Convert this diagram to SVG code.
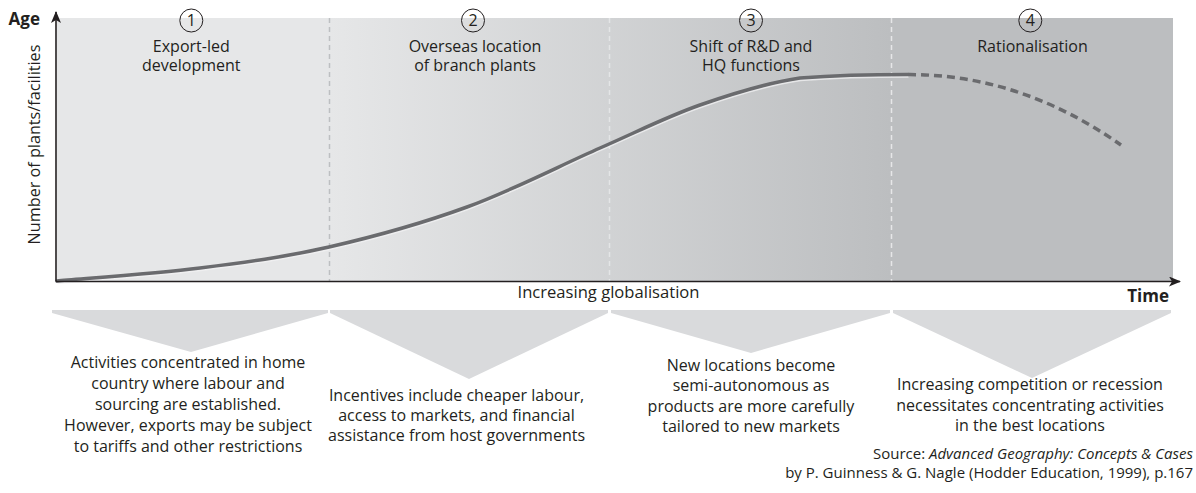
<svg xmlns="http://www.w3.org/2000/svg" width="1196" height="493" viewBox="0 0 1196 493">
  <defs>
    <linearGradient id="bgGrad" gradientUnits="userSpaceOnUse" x1="329" y1="0" x2="891" y2="0">
      <stop offset="0" stop-color="#e6e7e8"/>
      <stop offset="1" stop-color="#bcbec0"/>
    </linearGradient>
    <marker id="arrow" viewBox="0 0 12 10" refX="11" refY="5" markerWidth="12" markerHeight="10" markerUnits="userSpaceOnUse" orient="auto">
      <path d="M0,0 L12,5 L0,10 L3,5 Z" fill="#231f20"/>
    </marker>
    <style>
      .t { font-family: "Open Sans", "Noto Sans", "Liberation Sans", sans-serif; fill: #231f20; }
      .title { font-size: 16px; text-anchor: middle; }
      .desc { font-size: 16px; text-anchor: middle; }
      .num { font-size: 16px; text-anchor: middle; }
      .bold { font-size: 17px; font-weight: bold; }
      .src { font-size: 15px; text-anchor: end; }
      .ring { fill: none; stroke: #231f20; stroke-width: 1; }
      .chev { fill: #d9dadc; }
      .div { stroke-width: 1.5; stroke-dasharray: 5 4; fill: none; }
      .axis { stroke: #231f20; stroke-width: 1.6; fill: none; }
    </style>
  </defs>

  <g id="plot-background">
    <rect x="57" y="18" width="272" height="263" fill="#e6e7e8"/>
    <rect x="329" y="18" width="562" height="263" fill="url(#bgGrad)"/>
    <rect x="891" y="18" width="282" height="263" fill="#bcbec0"/>
  </g>

  <g id="dividers">
    <line class="div" x1="329.5" y1="18" x2="329.5" y2="281" stroke="#bdbfc1"/>
    <line class="div" x1="609.5" y1="18" x2="609.5" y2="281" stroke="#e4e5e6"/>
    <line class="div" x1="891.5" y1="18" x2="891.5" y2="281" stroke="#e6e7e8"/>
  </g>

  <g id="connectors">
    <path id="curve-highlight" d="M57,281 C80.8,278.8 154.7,273.7 200,268 C245.3,262.3 284.5,257.2 329,247 C373.5,236.8 421.8,223.5 467,207 C512.2,190.5 561.2,165 600,148 C638.8,131 666.7,116.7 700,105 C733.3,93.3 765.3,83.1 800,78 C834.7,75.5 890,74.6 908,74.6" fill="none" stroke="#f2f2f3" stroke-width="2" opacity="0.75" transform="translate(0.5,2.2)"/>
    <path id="curve" d="M57,281 C80.8,278.8 154.7,273.7 200,268 C245.3,262.3 284.5,257.2 329,247 C373.5,236.8 421.8,223.5 467,207 C512.2,190.5 561.2,165 600,148 C638.8,131 666.7,116.7 700,105 C733.3,93.3 765.3,83.1 800,78 C834.7,75.5 890,74.6 908,74.6" fill="none" stroke="#6a6b6e" stroke-width="3.5" stroke-linecap="round"/>
    <path id="curve-projection" d="M908,74.6 Q1020,74 1121,145" fill="none" stroke="#6a6b6e" stroke-width="3.5" stroke-dasharray="8 5"/>
    <line class="axis" x1="56" y1="281.5" x2="56" y2="12" marker-end="url(#arrow)"/>
    <line class="axis" x1="56" y1="281.5" x2="1180" y2="281.5" marker-end="url(#arrow)"/>
  </g>

  <g id="axis-labels">
    <text class="t bold" x="40" y="25" text-anchor="end">Age</text>
    <text class="t bold" x="1169" y="302" text-anchor="end">Time</text>
    <text class="t" font-size="16.2" text-anchor="middle" transform="translate(39.5,144.5) rotate(-90)">Number of plants/facilities</text>
    <text class="t" font-size="16.6" x="608.5" y="298" text-anchor="middle">Increasing globalisation</text>
  </g>

  <g id="stage-1">
    <circle class="ring" cx="191.3" cy="20.5" r="11.5"/>
    <text class="t num" x="191.3" y="26.2">1</text>
    <text class="t title" x="191.3" y="51.5">Export-led</text>
    <text class="t title" x="191.3" y="70.8">development</text>
    <polygon class="chev" points="52,310 328,310 328,313 191,352 52,313"/>
    <text class="t desc" x="188" y="368.3">Activities concentrated in home</text>
    <text class="t desc" x="188" y="389.1">country where labour and</text>
    <text class="t desc" x="188" y="409.9">sourcing are established.</text>
    <text class="t desc" x="188" y="430.7">However, exports may be subject</text>
    <text class="t desc" x="188" y="451.5">to tariffs and other restrictions</text>
  </g>

  <g id="stage-2">
    <circle class="ring" cx="473" cy="20.5" r="11.5"/>
    <text class="t num" x="473" y="26.2">2</text>
    <text class="t title" x="475" y="51.5">Overseas location</text>
    <text class="t title" x="475" y="70.8">of branch plants</text>
    <polygon class="chev" points="330,310 608,310 608,313 469,379 330,313"/>
    <text class="t desc" x="456.5" y="400.7">Incentives include cheaper labour,</text>
    <text class="t desc" x="456.5" y="421">access to markets, and financial</text>
    <text class="t desc" x="456.5" y="441.3">assistance from host governments</text>
  </g>

  <g id="stage-3">
    <circle class="ring" cx="751" cy="20.5" r="11.5"/>
    <text class="t num" x="751" y="26.2">3</text>
    <text class="t title" x="751" y="51.5">Shift of R&amp;D and</text>
    <text class="t title" x="751" y="70.8">HQ functions</text>
    <polygon class="chev" points="611,310 890,310 890,313 751,353 611,313"/>
    <text class="t desc" x="751" y="370.7">New locations become</text>
    <text class="t desc" x="751" y="391.2">semi-autonomous as</text>
    <text class="t desc" x="751" y="411.7">products are more carefully</text>
    <text class="t desc" x="751" y="432.2">tailored to new markets</text>
  </g>

  <g id="stage-4">
    <circle class="ring" cx="1030.3" cy="20.5" r="11.5"/>
    <text class="t num" x="1030.3" y="26.2">4</text>
    <text class="t title" x="1032.5" y="51.5">Rationalisation</text>
    <polygon class="chev" points="893,310 1171,310 1171,313 1032,378 893,313"/>
    <text class="t desc" x="1030" y="390">Increasing competition or recession</text>
    <text class="t desc" x="1030" y="410.5">necessitates concentrating activities</text>
    <text class="t desc" x="1030" y="431">in the best locations</text>
  </g>

  <g id="source">
    <text class="t src" x="1193" y="459">Source: <tspan font-style="italic">Advanced Geography: Concepts &amp; Cases</tspan></text>
    <text class="t src" x="1193" y="477.5">by P. Guinness &amp; G. Nagle (Hodder Education, 1999), p.167</text>
  </g>
</svg>
